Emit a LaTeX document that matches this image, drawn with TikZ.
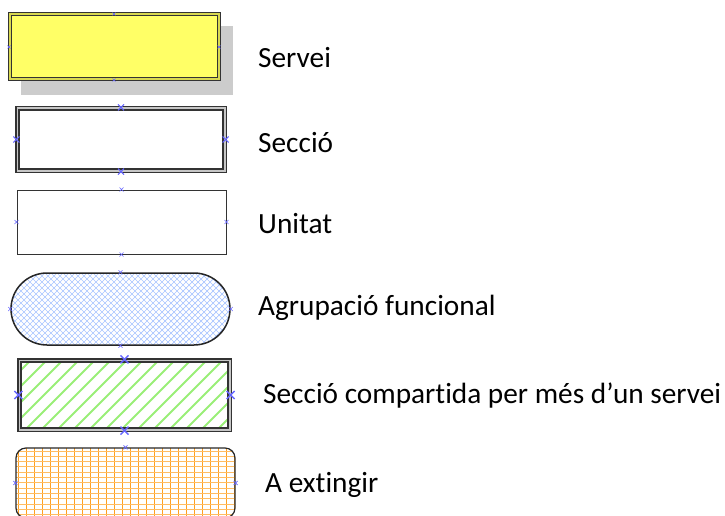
\documentclass[tikz,border=0pt]{standalone}
\usepackage{fontspec}
\setmainfont{Carlito}[RawFeature={-liga}]
\usetikzlibrary{shapes.misc}

\definecolor{servfill}{HTML}{FFFF66}
\definecolor{servgap}{HTML}{D8D850}
\definecolor{edge}{HTML}{333333}
\definecolor{shadowgray}{HTML}{CCCCCC}
\definecolor{xblue}{HTML}{6666FF}
\definecolor{hatchblue}{HTML}{A8C4FF}
\definecolor{stripegreen}{HTML}{99EE77}
\definecolor{gridorange}{HTML}{FFA020}

\tikzset{
  every node/.style={inner sep=0pt},
  box/.style={draw=edge, line width=1pt},
  dblbox/.style={draw=edge, line width=1.6pt, double=gray!45, double distance=1.5pt},
  xmk/.style={draw=xblue, line width=0.8pt},
  legend/.style={anchor=base west, font=\fontsize{29.3}{35}\selectfont}
}

\begin{document}
\begin{tikzpicture}[x=1pt,y=-1pt]
\useasboundingbox (0,0) rectangle (725,516);

% Servei
\fill[shadowgray] (21,26) rectangle (233,95);
\node[box, fill=servfill, double=servgap, double distance=2pt,
  minimum width=209pt, minimum height=65pt] (servei) at (114,47) {};
\foreach \a in {north,south,east,west}
  \draw[xmk, line width=0.6pt] (servei.\a) +(-1.5,-1.5) -- +(1.5,1.5) +(-1.5,1.5) -- +(1.5,-1.5);
\node[legend] (lservei) at (258,68) {Servei};

% Seccio
\node[dblbox, fill=white, minimum width=207.5pt, minimum height=62.5pt] (seccio) at (121,139.5) {};
\foreach \a in {north,south,east,west}
  \draw[xmk, line width=1pt] (seccio.\a) +(-3,-3) -- +(3,3) +(-3,3) -- +(3,-3);
\node[legend] (lseccio) at (258,152) {Secció};

% Unitat
\node[box, minimum width=209pt, minimum height=64pt] (unitat) at (121.5,222) {};
\foreach \a in {north,south,east,west}
  \draw[xmk, line width=0.6pt] (unitat.\a) +(-2,-2) -- +(2,2) +(-2,2) -- +(2,-2);
\node[legend] (lunitat) at (258,233) {Unitat};

% Agrupacio funcional
\node[rounded rectangle, draw=black!85, line width=1.5pt, minimum width=219pt, minimum height=72pt,
  path picture={
    \foreach \i in {-80,-74,...,240} {
      \draw[hatchblue, line width=0.7pt] ([xshift=\i pt]path picture bounding box.north west) -- ++(90,90);
      \draw[hatchblue, line width=0.7pt] ([xshift=\i pt]path picture bounding box.south west) -- ++(90,-90);
    }
  }] (agrup) at (120.5,309) {};
\foreach \a in {north,south,east,west}
  \draw[xmk, line width=0.6pt] (agrup.\a) +(-2,-2) -- +(2,2) +(-2,2) -- +(2,-2);
\node[legend] (lagrup) at (258,315) {Agrupació funcional};

% Seccio compartida
\node[dblbox, minimum width=210.5pt, minimum height=69.5pt,
  path picture={
    \foreach \i in {-90,-74,...,230}
      \draw[stripegreen, line width=2pt] ([xshift=\i pt]path picture bounding box.south west) -- ++(90,-90);
  }] (compart) at (124.5,395) {};
\foreach \a in {north,south,east,west}
  \draw[xmk, line width=1.4pt] (compart.\a) +(-4,-4) -- +(4,4) +(-4,4) -- +(4,-4);
\node[legend] (lcompart) at (263,403) {Secció compartida per més d’un servei};

% A extingir
\node[rectangle, rounded corners=10pt, draw=black!85, line width=1.2pt, minimum width=219pt, minimum height=70pt,
  path picture={
    \foreach \i in {2,10,...,226}
      \draw[gridorange, line width=1pt] ([xshift=\i pt]path picture bounding box.north west) -- ++(0,80);
    \foreach \j in {3,8.3,...,80}
      \draw[gridorange!70, line width=1pt] ([yshift=-\j pt]path picture bounding box.north west) -- ++(230,0);
  }] (extingir) at (125.5,483) {};
\foreach \a in {north,east,west}
  \draw[xmk, line width=0.6pt] (extingir.\a) +(-2,-2) -- +(2,2) +(-2,2) -- +(2,-2);
\node[legend] (lextingir) at (265,492) {A extingir};
\end{tikzpicture}
\end{document}
